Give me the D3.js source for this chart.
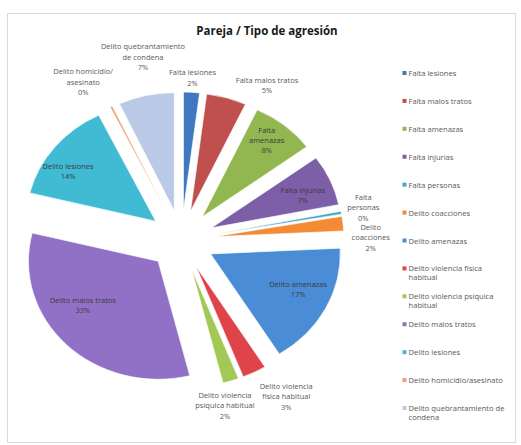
<!DOCTYPE html>
<html>
<head>
<meta charset="utf-8">
<script src="https://cdn.jsdelivr.net/npm/d3@7/dist/d3.min.js"></script>
<style>
  body { margin: 0; background: #fff; }
  svg { display: block; font-family: "Open Sans", sans-serif; }
</style>
</head>
<body>
<svg id="chart" width="521" height="445"></svg>
<script>
// categories, in pie order (clockwise from 12 o'clock)
const categories = [
  'Falta lesiones', 'Falta malos tratos', 'Falta amenazas', 'Falta injurias',
  'Falta personas', 'Delito coacciones', 'Delito amenazas',
  'Delito violencia física habitual', 'Delito violencia psíquica habitual',
  'Delito malos tratos', 'Delito lesiones', 'Delito homicidio/asesinato',
  'Delito quebrantamiento de condena'
];
// share of cases (%)
const values = [2, 5, 8, 7, 0.4, 2, 17, 3, 2, 33, 14, 0.3, 7];
const colors = [
  '#3f78be', '#c0504d', '#92b650', '#7d5fa8', '#45a9c6', '#f28b34', '#4a8dd6',
  '#e0444b', '#a2c955', '#9171c6', '#41bad3', '#f0a070', '#b9c9e6'
];
// data label text (wrapped as in the chart), percentage is appended
const labelLines = [
  ['Falta lesiones'], ['Falta malos tratos'], ['Falta', 'amenazas'], ['Falta injurias'],
  ['Falta', 'personas'], ['Delito', 'coacciones'], ['Delito amenazas'],
  ['Delito violencia', 'física habitual'], ['Delito violencia', 'psíquica habitual'],
  ['Delito malos tratos'], ['Delito lesiones'], ['Delito homicidio/', 'asesinato'],
  ['Delito quebrantamiento', 'de condena']
];
const legendLines = [
  ['Falta lesiones'], ['Falta malos tratos'], ['Falta amenazas'], ['Falta injurias'],
  ['Falta personas'], ['Delito coacciones'], ['Delito amenazas'],
  ['Delito violencia física', 'habitual'], ['Delito violencia psíquica', 'habitual'],
  ['Delito malos tratos'], ['Delito lesiones'], ['Delito homicidio/asesinato'],
  ['Delito quebrantamiento de', 'condena']
];
// label placement: inside slice?, radius (x R from pie centre), angle nudge (deg)
const labelInside = [false, false, true, true, false, false, true, false, false, true, true, false, false];
const labelRadius = [1.38, 1.47, 1.07, 1.01, 1.43, 1.46, 0.99, 1.55, 1.44, 0.94, 1.05, 1.54, 1.58];
const labelNudge  = [0, 10.6, -1.4, 1.8, -0.6, 5.4, -3, -4.8, 4.2, 9.1, -5.2, -3.9, 1.7];

const svg = d3.select('#chart');
const cx = 181.4, cy = 240, R = 118, SX = 1.099, EXPLODE = 30;
const total = d3.sum(values);

// chart frame
svg.append('rect').attr('x', 7.5).attr('y', 13.5).attr('width', 508).attr('height', 429)
  .attr('fill', '#fff').attr('stroke', '#d9d9d9');

svg.append('text').attr('x', 267).attr('y', 30)
  .attr('text-anchor', 'middle').attr('dominant-baseline', 'central')
  .attr('font-size', 11.5).attr('font-weight', 700).attr('fill', '#1a1a1a')
  .text('Pareja / Tipo de agresión');

const pie = d3.pie().sort(null).value(d => d);
const arcs = pie(values);
const arc = d3.arc().innerRadius(0).outerRadius(R);
const mid = d => (d.startAngle + d.endAngle) / 2;

const g = svg.append('g').attr('transform', `translate(${cx},${cy}) scale(${SX},1)`);
g.selectAll('path').data(arcs).join('path')
  .attr('d', arc)
  .attr('fill', (d, i) => colors[i])
  .attr('stroke', '#fff').attr('stroke-width', 0.6)
  .attr('transform', d => `translate(${EXPLODE * Math.sin(mid(d))},${-EXPLODE * Math.cos(mid(d))})`);

// data labels
const labels = svg.append('g').attr('font-size', 7.5);
arcs.forEach((d, i) => {
  const a = mid(d) + labelNudge[i] * Math.PI / 180;
  const r = labelRadius[i] * R;
  const x = cx + SX * r * Math.sin(a);
  const y = cy - r * Math.cos(a);
  const lines = labelLines[i].concat(Math.round(values[i] / total * 100) + '%');
  const lh = labelInside[i] ? 10 : 10.5;
  const t = labels.append('text')
    .attr('text-anchor', 'middle')
    .attr('fill', labelInside[i] ? '#3a3a3a' : '#595959');
  lines.forEach((s, k) => {
    t.append('tspan').attr('x', x).attr('y', y + (k - (lines.length - 1) / 2) * lh)
      .attr('dominant-baseline', 'central').text(s);
  });
});

// legend
const ly = d3.scalePoint().domain(d3.range(categories.length)).range([73, 408]);
const legend = svg.append('g').attr('font-size', 7.6).attr('fill', '#595959');
categories.forEach((c, i) => {
  const y = ly(i);
  legend.append('rect').attr('x', 402.5).attr('y', y - 2).attr('width', 4).attr('height', 4)
    .attr('fill', colors[i]);
  const t = legend.append('text');
  legendLines[i].forEach((s, k) => {
    t.append('tspan').attr('x', 408.5).attr('y', y + k * 8.7)
      .attr('dominant-baseline', 'central').text(s);
  });
});
</script>
</body>
</html>
